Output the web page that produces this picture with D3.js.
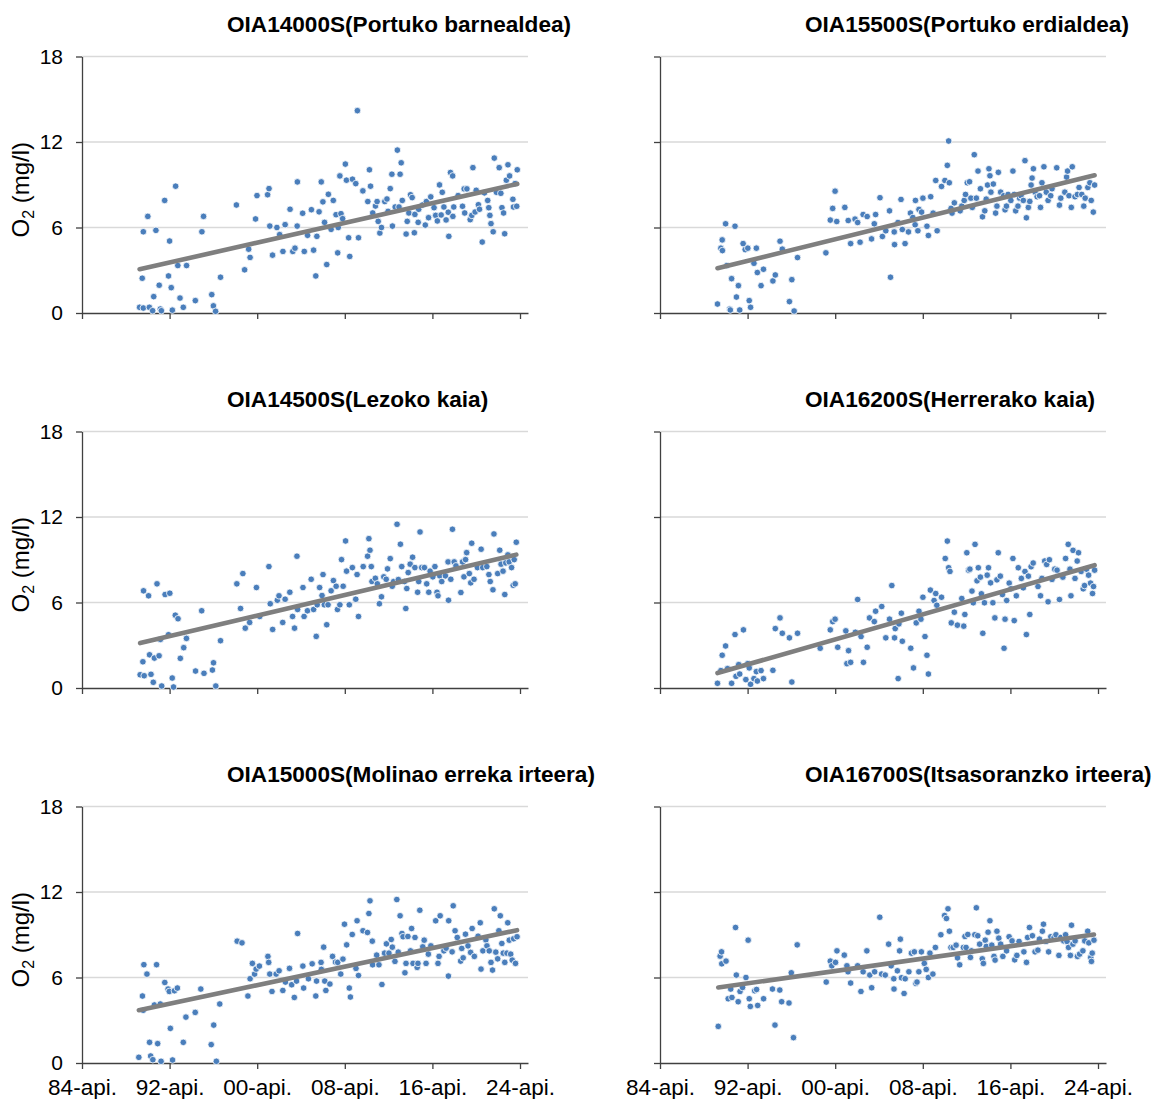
<!DOCTYPE html>
<html><head><meta charset="utf-8">
<script src="https://cdn.jsdelivr.net/npm/d3@7"></script>
<style>
body{margin:0;background:#fff}
svg{display:block;font-family:"Liberation Sans",Arial,sans-serif}
</style>
</head><body>
<svg id="chart" width="1158" height="1099"></svg>
<script>
// ---------- data ----------
const stationTitles = [
  "OIA14000S(Portuko barnealdea)", "OIA15500S(Portuko erdialdea)",
  "OIA14500S(Lezoko kaia)", "OIA16200S(Herrerako kaia)",
  "OIA15000S(Molinao erreka irteera)", "OIA16700S(Itsasoranzko irteera)"
];
const yTicks = [0, 6, 12, 18];
const xTickYears = [1984.25, 1992.25, 2000.25, 2008.25, 2016.25, 2024.25];
const xTickLabels = ["84-api.", "92-api.", "00-api.", "08-api.", "16-api.", "24-api."];
const xDomain = [1984.25, 2024.98];
const yDomain = [0, 18];

// [decimal year, O2 mg/l]
const st14000 = [[1989.51,0.4],[1989.85,0.35],[1989.75,2.44],[1989.85,5.7],[1990.26,6.78],[1990.4,0.4],[1990.7,0.16],[1990.8,1.15],[1991.0,5.8],[1991.3,1.95],[1991.4,0.28],[1991.5,0.16],[1991.8,7.9],[1992.15,2.6],[1992.25,5.05],[1992.4,1.78],[1992.5,0.2],[1992.8,8.9],[1993.0,3.33],[1993.2,1.05],[1993.5,0.4],[1993.8,3.33],[1994.6,0.87],[1995.2,5.7],[1995.35,6.78],[1996.1,1.29],[1996.25,0.5],[1996.45,0.12],[1996.9,2.51],[1998.35,7.58],[1999.1,3.03],[1999.47,4.48],[1999.6,3.9],[2000.1,6.6],[2000.23,8.24],[2001.2,8.3],[2001.33,8.73],[2001.4,6.1],[2001.65,4.06],[2002.05,6.0],[2002.3,5.5],[2002.6,4.32],[2002.8,6.2],[2003.25,7.28],[2003.5,4.32],[2003.7,4.55],[2003.9,6.1],[2003.92,9.2],[2004.4,7.0],[2004.55,4.32],[2004.85,5.45],[2005.2,7.25],[2005.4,4.41],[2005.6,2.6],[2005.7,5.38],[2005.9,7.1],[2006.1,9.2],[2006.25,7.8],[2006.4,6.36],[2006.6,3.4],[2006.75,8.33],[2007.0,5.87],[2007.2,7.9],[2007.45,6.9],[2007.6,4.22],[2007.65,6.0],[2007.8,9.62],[2007.9,6.97],[2008.05,6.62],[2008.3,10.45],[2008.4,9.32],[2008.6,5.28],[2008.7,3.97],[2008.95,9.39],[2009.25,9.08],[2009.4,14.2],[2009.5,5.28],[2009.9,8.57],[2010.35,7.82],[2010.5,10.05],[2010.6,8.9],[2010.8,7.02],[2011.05,7.51],[2011.2,7.82],[2011.3,6.43],[2011.45,5.61],[2011.6,6.0],[2011.9,7.82],[2012.1,8.0],[2012.2,7.13],[2012.4,8.73],[2012.55,9.74],[2012.6,6.1],[2012.85,7.44],[2013.05,11.43],[2013.2,7.44],[2013.3,9.74],[2013.4,10.54],[2013.5,7.9],[2013.85,5.54],[2013.95,6.43],[2014.1,7.02],[2014.25,8.3],[2014.4,8.1],[2014.6,5.63],[2014.65,6.92],[2014.95,6.36],[2015.0,7.28],[2015.35,7.58],[2015.6,6.17],[2015.7,7.82],[2015.9,6.69],[2016.1,8.15],[2016.4,7.39],[2016.55,6.85],[2016.7,6.46],[2016.9,8.99],[2017.05,6.88],[2017.15,8.47],[2017.3,7.44],[2017.5,6.53],[2017.7,7.07],[2017.75,5.38],[2017.9,9.86],[2018.1,9.62],[2018.2,7.44],[2018.12,6.78],[2018.6,8.24],[2019.0,7.49],[2019.15,8.71],[2019.2,7.02],[2019.4,8.71],[2019.7,6.55],[2019.85,6.85],[2019.95,10.2],[2020.15,7.09],[2020.25,8.61],[2020.45,7.6],[2020.55,7.28],[2020.8,4.98],[2021.0,8.43],[2021.3,7.9],[2021.4,7.39],[2021.5,6.85],[2021.6,6.27],[2021.8,5.7],[2021.9,10.87],[2022.1,8.47],[2022.35,10.2],[2022.5,8.4],[2022.6,7.39],[2022.75,7.02],[2022.85,5.56],[2023.0,9.32],[2023.15,10.4],[2023.3,9.62],[2023.6,7.98],[2023.65,7.44],[2023.8,9.08],[2023.95,7.49],[2024.0,10.05]];

const st15500 = [[1989.5,0.63],[1989.81,4.55],[1989.93,5.13],[1989.95,4.38],[1990.24,6.26],[1990.36,3.33],[1990.61,0.28],[1990.67,0.21],[1990.79,2.41],[1991.1,6.09],[1991.23,1.12],[1991.41,1.92],[1991.53,0.21],[1991.84,4.87],[1992.03,4.45],[1992.27,4.55],[1992.4,0.87],[1992.52,0.4],[1992.83,3.49],[1993.05,4.55],[1993.14,2.84],[1993.48,1.92],[1993.7,3.07],[1994.56,2.25],[1994.78,2.67],[1995.21,5.04],[1995.42,4.48],[1996.07,0.8],[1996.29,2.34],[1996.5,0.14],[1996.81,3.89],[1999.4,4.22],[1999.8,6.52],[2000.02,7.34],[2000.24,8.55],[2000.39,6.42],[2001.13,7.41],[2001.44,6.49],[2001.66,4.87],[2002.06,6.59],[2002.3,6.35],[2002.52,4.97],[2002.8,6.91],[2003.17,6.77],[2003.57,5.2],[2003.82,6.26],[2003.94,6.91],[2004.34,8.09],[2004.56,5.37],[2004.87,5.77],[2005.21,7.17],[2005.3,2.51],[2005.64,5.69],[2005.67,4.8],[2005.98,6.35],[2006.26,7.97],[2006.38,5.86],[2006.63,4.87],[2006.94,5.69],[2007.12,7.01],[2007.34,6.7],[2007.55,6.19],[2007.58,7.9],[2007.8,5.77],[2007.9,7.27],[2008.14,7.08],[2008.26,8.06],[2008.63,6.09],[2008.76,5.44],[2008.97,8.16],[2009.19,7.01],[2009.43,9.3],[2009.56,5.77],[2009.96,8.88],[2010.27,9.3],[2010.49,10.36],[2010.61,12.07],[2010.67,9.14],[2010.83,7.34],[2010.92,7.01],[2011.13,7.73],[2011.66,7.17],[2011.81,7.5],[2012.03,7.9],[2012.15,8.32],[2012.31,9.14],[2012.52,9.21],[2012.64,8.06],[2012.77,7.41],[2012.95,11.11],[2013.14,8.06],[2013.29,9.96],[2013.51,8.72],[2013.7,6.75],[2013.91,7.17],[2014.04,7.99],[2014.16,8.98],[2014.29,10.12],[2014.38,9.63],[2014.47,8.48],[2014.69,9.05],[2014.9,7.01],[2015.02,7.5],[2015.15,9.87],[2015.36,8.48],[2015.64,8.23],[2015.76,7.24],[2015.89,7.5],[2016.04,8.32],[2016.29,7.9],[2016.48,9.96],[2016.6,8.32],[2016.73,7.17],[2016.94,7.5],[2017.09,8.06],[2017.22,8.23],[2017.43,7.9],[2017.58,10.69],[2017.71,6.68],[2017.89,7.41],[2018.02,7.83],[2018.14,8.98],[2018.23,9.47],[2018.35,10.12],[2018.51,8.48],[2018.69,8.16],[2018.91,8.23],[2019.0,7.41],[2019.13,9.14],[2019.31,10.26],[2019.53,8.48],[2019.69,7.9],[2019.93,8.23],[2020.05,8.72],[2020.48,10.19],[2020.73,7.57],[2020.85,8.06],[2021.22,8.48],[2021.38,9.54],[2021.47,9.96],[2021.6,8.23],[2021.81,7.41],[2021.9,10.26],[2022.15,8.16],[2022.37,8.32],[2022.52,8.81],[2022.77,8.32],[2022.95,7.5],[2023.08,8.06],[2023.32,8.81],[2023.51,9.14],[2023.63,7.9],[2023.82,7.08],[2023.94,8.98]];

const st14500 = [[1989.56,0.93],[1989.81,1.84],[1989.87,6.82],[1989.93,0.86],[1990.33,6.47],[1990.42,2.33],[1990.55,0.96],[1990.76,0.4],[1990.86,2.1],[1991.1,7.31],[1991.29,2.26],[1991.41,3.41],[1991.53,0.14],[1991.84,6.56],[1992.15,3.74],[1992.27,6.65],[1992.49,0.7],[1992.61,0.07],[1992.77,5.11],[1993.02,4.86],[1993.23,2.08],[1993.54,2.83],[1993.79,3.48],[1994.62,1.19],[1995.18,5.42],[1995.39,1.03],[1996.16,1.26],[1996.26,1.77],[1996.47,0.14],[1996.9,3.32],[1998.39,7.31],[1998.73,5.58],[1998.94,8.03],[1999.16,4.2],[1999.56,4.6],[2000.18,7.05],[2000.48,5.02],[2001.32,8.52],[2001.44,5.91],[2001.66,4.11],[2002.09,6.16],[2002.24,6.47],[2002.58,4.6],[2002.8,6.23],[2003.23,6.72],[2003.48,5.02],[2003.66,4.2],[2003.88,9.25],[2003.94,5.51],[2004.43,7.05],[2004.53,5.02],[2004.84,5.42],[2005.18,7.63],[2005.4,5.51],[2005.64,3.62],[2005.73,5.84],[2005.95,7.05],[2006.17,6.49],[2006.26,7.96],[2006.38,5.84],[2006.6,4.44],[2006.72,5.84],[2007.0,6.82],[2007.21,7.54],[2007.46,7.14],[2007.58,5.51],[2007.8,5.84],[2007.95,9.01],[2008.1,7.14],[2008.32,10.32],[2008.41,8.2],[2008.66,5.84],[2008.94,8.45],[2009.25,6.23],[2009.37,7.96],[2009.5,5.02],[2009.93,8.52],[2010.33,9.25],[2010.45,10.48],[2010.55,9.67],[2010.67,8.52],[2010.73,7.47],[2011.04,7.7],[2011.22,7.31],[2011.41,5.91],[2011.6,6.4],[2011.81,7.8],[2012.03,7.63],[2012.15,8.36],[2012.4,9.08],[2012.58,7.14],[2012.71,7.47],[2013.02,11.49],[2013.14,7.61],[2013.33,10.09],[2013.45,8.52],[2013.7,7.47],[2013.82,5.58],[2013.91,6.98],[2014.04,8.1],[2014.22,8.69],[2014.44,9.18],[2014.65,8.45],[2014.9,6.72],[2015.0,7.47],[2015.12,10.95],[2015.27,8.45],[2015.52,8.45],[2015.73,7.31],[2015.92,6.72],[2016.04,8.2],[2016.29,7.8],[2016.48,8.52],[2016.67,6.72],[2016.76,6.47],[2016.92,7.87],[2017.1,7.47],[2017.44,7.87],[2017.68,8.85],[2017.72,6.16],[2017.93,7.63],[2018.08,11.14],[2018.24,8.85],[2018.4,8.57],[2018.85,6.7],[2019.0,8.85],[2019.13,7.8],[2019.28,9.01],[2019.38,9.5],[2019.62,8.03],[2019.75,7.38],[2019.84,10.16],[2020.05,7.63],[2020.36,8.45],[2020.7,9.74],[2020.85,8.45],[2021.22,8.52],[2021.41,7.96],[2021.53,7.47],[2021.78,6.89],[2021.87,10.81],[2022.21,8.03],[2022.4,9.67],[2022.52,8.69],[2022.7,8.2],[2022.86,6.56],[2022.95,8.78],[2023.14,9.34],[2023.26,8.85],[2023.48,8.45],[2023.63,7.21],[2023.72,9.01],[2023.81,7.31],[2023.91,10.23]];

const st16200 = [[1989.5,0.33],[1989.81,1.22],[1989.93,2.3],[1990.24,2.95],[1990.42,1.36],[1990.79,0.33],[1991.1,3.75],[1991.19,0.82],[1991.44,1.64],[1991.53,0.98],[1991.87,4.08],[1992.09,0.59],[1992.27,1.71],[1992.4,1.41],[1992.52,0.26],[1992.83,0.66],[1993.05,1.15],[1993.14,0.49],[1993.48,1.22],[1993.7,0.66],[1994.56,1.24],[1994.78,4.17],[1995.21,4.92],[1995.42,3.84],[1996.07,3.52],[1996.29,0.42],[1996.81,3.84],[1998.88,2.79],[1999.8,4.08],[2000.02,4.66],[2000.24,4.83],[2000.48,2.86],[2001.22,4.01],[2001.32,1.71],[2001.47,2.62],[2001.66,1.8],[2002.09,3.91],[2002.3,6.21],[2002.61,3.61],[2002.83,1.8],[2003.17,2.86],[2003.38,4.92],[2003.82,4.66],[2003.94,5.39],[2004.5,5.72],[2004.87,3.52],[2005.21,4.83],[2005.42,7.19],[2005.67,3.52],[2005.73,4.17],[2006.0,0.66],[2006.07,4.5],[2006.29,5.25],[2006.38,3.28],[2007.15,2.79],[2007.4,1.41],[2007.65,4.57],[2007.9,5.39],[2008.08,4.83],[2008.26,6.37],[2008.45,3.61],[2008.63,2.3],[2008.76,0.98],[2008.94,6.87],[2009.28,6.14],[2009.43,6.63],[2009.53,5.81],[2009.96,6.37],[2010.3,9.09],[2010.49,10.31],[2010.61,8.44],[2010.73,8.18],[2010.85,4.57],[2011.13,5.32],[2011.41,4.41],[2011.81,6.28],[2011.99,4.34],[2012.09,5.16],[2012.27,9.49],[2012.43,8.27],[2012.55,8.34],[2012.74,6.8],[2012.86,5.98],[2013.02,10.08],[2013.2,7.52],[2013.32,8.44],[2013.51,7.78],[2013.6,6.61],[2013.73,3.84],[2013.88,5.98],[2014.13,7.92],[2014.25,8.44],[2014.44,7.38],[2014.65,5.98],[2014.83,4.92],[2015.02,7.59],[2015.14,9.49],[2015.33,7.85],[2015.52,6.56],[2015.67,2.79],[2015.76,4.83],[2015.91,6.14],[2016.14,7.36],[2016.3,6.96],[2016.48,9.09],[2016.6,4.73],[2016.79,6.47],[2016.97,8.44],[2017.25,7.69],[2017.43,7.03],[2017.58,8.18],[2017.71,3.75],[2017.89,7.85],[2018.02,5.16],[2018.14,8.51],[2018.33,8.77],[2018.77,7.12],[2019.0,6.47],[2019.13,7.69],[2019.38,8.91],[2019.56,8.67],[2019.69,6.05],[2019.81,9.0],[2020.05,7.62],[2020.3,8.34],[2020.51,8.27],[2020.73,6.21],[2021.04,7.78],[2021.29,9.09],[2021.53,10.08],[2021.69,8.34],[2021.78,6.47],[2021.97,9.66],[2022.15,7.69],[2022.35,8.91],[2022.47,9.49],[2022.71,8.18],[2022.9,6.96],[2023.02,7.19],[2023.2,8.34],[2023.39,7.92],[2023.57,7.36],[2023.75,6.63],[2023.84,7.12],[2023.94,8.27]];

const st15000 = [[1989.44,0.4],[1989.77,4.7],[1989.84,3.7],[1989.9,6.9],[1990.18,6.24],[1990.42,1.45],[1990.52,0.49],[1990.72,0.23],[1990.86,4.07],[1991.06,6.9],[1991.16,1.36],[1991.4,4.14],[1991.47,0.12],[1991.81,5.65],[1992.11,5.19],[1992.22,5.02],[1992.32,2.43],[1992.52,0.21],[1992.69,5.07],[1992.96,5.26],[1993.5,1.45],[1993.74,3.22],[1994.59,3.55],[1995.1,5.19],[1996.05,1.29],[1996.28,2.66],[1996.52,0.12],[1996.83,4.14],[1998.42,8.55],[1998.86,8.43],[1999.4,4.7],[1999.6,5.91],[1999.81,6.99],[2000.01,6.24],[2000.15,6.59],[2000.45,6.8],[2001.23,7.48],[2001.3,7.06],[2001.4,6.24],[2001.6,5.02],[2001.98,6.24],[2002.25,6.47],[2002.59,5.09],[2002.83,5.68],[2003.2,6.64],[2003.4,5.49],[2003.64,4.6],[2003.84,5.75],[2003.94,9.09],[2004.42,6.8],[2004.49,5.26],[2004.93,5.91],[2005.27,6.96],[2005.6,4.7],[2005.67,5.75],[2006.08,7.06],[2006.11,6.57],[2006.32,8.13],[2006.42,5.75],[2006.52,5.09],[2006.89,5.54],[2007.13,7.48],[2007.4,7.08],[2007.6,7.06],[2007.88,6.24],[2008.08,7.29],[2008.22,9.74],[2008.42,8.29],[2008.66,5.26],[2008.76,4.63],[2008.93,9.02],[2009.27,6.64],[2009.37,9.98],[2009.5,6.14],[2009.91,9.28],[2010.32,9.16],[2010.45,10.49],[2010.55,11.38],[2010.76,8.55],[2010.79,6.89],[2011.16,7.57],[2011.37,6.89],[2011.64,5.51],[2011.88,7.71],[2012.05,8.36],[2012.28,7.71],[2012.49,8.67],[2012.59,8.13],[2012.83,7.13],[2013.0,11.47],[2013.13,7.78],[2013.3,10.33],[2013.47,9.09],[2013.57,8.86],[2013.74,6.33],[2013.84,6.99],[2014.01,8.88],[2014.25,7.87],[2014.35,9.44],[2014.48,6.99],[2014.66,8.81],[2014.86,6.71],[2014.93,6.99],[2015.1,10.72],[2015.37,8.15],[2015.5,8.62],[2015.67,6.99],[2015.88,7.64],[2016.11,8.22],[2016.55,9.98],[2016.76,6.99],[2016.86,7.48],[2016.96,10.33],[2017.3,7.87],[2017.5,8.06],[2017.71,6.1],[2017.74,9.98],[2018.05,7.8],[2018.15,11.03],[2018.32,9.28],[2018.52,8.81],[2018.83,7.15],[2018.93,8.04],[2019.06,7.38],[2019.27,9.04],[2019.5,8.22],[2019.74,7.76],[2019.88,9.44],[2020.08,7.48],[2020.42,8.9],[2020.62,9.84],[2020.69,6.59],[2020.86,7.87],[2021.13,8.64],[2021.23,8.22],[2021.44,7.87],[2021.6,7.06],[2021.74,6.52],[2021.9,10.82],[2022.04,7.78],[2022.21,7.31],[2022.32,9.28],[2022.45,10.33],[2022.59,8.39],[2022.72,7.71],[2022.86,7.06],[2023.06,7.71],[2023.13,9.84],[2023.27,8.62],[2023.4,7.64],[2023.54,7.22],[2023.67,8.72],[2023.84,6.99],[2023.98,8.86]];

const st16700 = [[1989.57,2.57],[1989.74,7.5],[1989.87,7.8],[1989.89,6.96],[1990.28,7.15],[1990.48,4.51],[1990.71,5.19],[1990.82,4.6],[1991.15,9.51],[1991.22,6.17],[1991.39,4.3],[1991.56,5.02],[1991.79,5.3],[1992.1,6.0],[1992.3,8.62],[1992.4,4.51],[1992.5,3.97],[1992.9,5.07],[1993.07,5.16],[1993.17,4.04],[1993.71,4.51],[1994.52,5.19],[1994.75,2.66],[1995.19,5.12],[1995.36,4.3],[1996.03,4.21],[1996.24,6.33],[1996.44,1.78],[1996.78,8.29],[1999.43,5.68],[1999.8,7.15],[1999.94,6.82],[2000.28,7.06],[2000.41,7.87],[2001.08,7.57],[2001.32,6.82],[2001.42,6.4],[2001.66,5.61],[2002.3,6.82],[2002.6,5.02],[2002.8,6.4],[2003.14,7.87],[2003.41,6.17],[2003.58,5.28],[2003.85,6.4],[2004.32,10.23],[2004.49,6.24],[2004.82,6.17],[2005.13,8.34],[2005.36,6.82],[2005.6,5.91],[2005.62,5.19],[2005.93,6.47],[2006.13,7.87],[2006.2,8.69],[2006.3,5.98],[2006.54,4.88],[2006.64,5.91],[2006.98,6.4],[2007.21,7.71],[2007.48,7.8],[2007.62,5.58],[2007.72,5.68],[2007.89,6.4],[2008.12,7.8],[2008.39,6.99],[2008.56,6.57],[2008.76,6.0],[2008.9,7.71],[2009.17,6.24],[2009.4,8.11],[2009.9,9.0],[2010.24,10.35],[2010.41,10.14],[2010.55,10.82],[2010.68,9.25],[2010.82,8.11],[2011.02,8.11],[2011.29,8.27],[2011.42,7.38],[2011.62,6.89],[2011.96,8.11],[2012.1,8.88],[2012.2,8.11],[2012.36,9.02],[2012.6,7.41],[2012.7,7.87],[2013.0,9.0],[2013.14,10.89],[2013.27,8.93],[2013.44,8.34],[2013.68,7.31],[2013.78,6.99],[2013.95,8.62],[2014.05,8.18],[2014.21,9.18],[2014.38,9.98],[2014.55,8.27],[2014.75,7.48],[2014.85,7.22],[2015.02,9.25],[2015.19,8.76],[2015.36,8.34],[2015.56,7.48],[2015.9,7.87],[2016.13,8.86],[2016.4,8.57],[2016.64,7.24],[2016.84,7.55],[2017.04,8.53],[2017.48,7.8],[2017.72,7.06],[2017.82,8.81],[2017.99,9.51],[2018.26,8.93],[2018.5,7.8],[2018.76,7.92],[2018.9,8.69],[2019.17,9.25],[2019.27,9.74],[2019.5,8.53],[2019.74,7.8],[2019.94,8.86],[2020.24,8.81],[2020.41,9.0],[2020.68,7.55],[2020.85,8.81],[2021.12,8.57],[2021.29,9.0],[2021.42,8.53],[2021.56,8.11],[2021.73,7.55],[2021.83,9.67],[2021.96,8.34],[2022.16,8.57],[2022.37,7.48],[2022.57,7.64],[2022.87,7.87],[2023.04,8.57],[2023.31,9.25],[2023.41,8.43],[2023.58,7.41],[2023.65,7.13],[2023.72,7.71],[2023.88,8.62]];

const stationData = [st14000, st15500, st14500, st16200, st15000, st16700];
// linear trend line end values (mg/l) at first and last sample date
const trendStart = [3.07, 3.14, 3.15, 1.05, 3.71, 5.30];
const trendEnd   = [9.06, 9.66, 9.36, 8.62, 9.32, 9.02];

// ---------- layout ----------
const svg = d3.select("#chart");
svg.append("rect").attr("width", 1158).attr("height", 1099).attr("fill", "#fff");
const W = 446, H = 256.5;
const colX = [82, 660];
const rowY = [56.5, 431.5, 806.5];
const titleX = [227, 805];
const x = d3.scaleLinear().domain(xDomain).range([0, W]);
const y = d3.scaleLinear().domain(yDomain).range([H, 0]);
const axisColor = "#404040";

stationData.forEach((data, i) => {
  const col = i % 2, row = Math.floor(i / 2);
  const g = svg.append("g").attr("transform", `translate(${colX[col]},${rowY[row]})`);

  // title
  svg.append("text")
    .attr("x", titleX[col]).attr("y", 32 + row * 375)
    .attr("font-size", 22.6).attr("font-weight", "bold").attr("fill", "#000")
    .text(stationTitles[i]);

  // gridlines
  g.append("g").selectAll("line").data(yTicks.filter(d => d > 0)).join("line")
    .attr("x1", 0).attr("x2", W)
    .attr("y1", d => y(d)).attr("y2", d => y(d))
    .attr("stroke", "#d9d9d9").attr("stroke-width", 1.3);

  // y axis
  const ya = g.append("g").call(
    d3.axisLeft(y).tickValues(yTicks).tickSize(6).tickSizeOuter(0).tickPadding(13)
      .tickFormat(col === 0 ? d3.format("d") : () => ""));
  // x axis
  const xa = g.append("g").attr("transform", `translate(0,${H})`).call(
    d3.axisBottom(x).tickValues(xTickYears).tickSize(6).tickSizeOuter(0).tickPadding(10)
      .tickFormat((d, k) => row === 2 ? xTickLabels[k] : ""));
  [ya, xa].forEach(a => {
    a.select(".domain").attr("stroke", axisColor).attr("stroke-width", 1.3);
    a.selectAll(".tick line").attr("stroke", axisColor).attr("stroke-width", 1.3);
    a.selectAll("text").attr("fill", "#000")
      .attr("font-family", '"Liberation Sans",Arial,sans-serif');
  });
  ya.selectAll("text").attr("font-size", 21);
  xa.selectAll("text").attr("font-size", 22.5);

  // y axis title
  if (col === 0) {
    const t = svg.append("text")
      .attr("transform", `translate(29,${rowY[row] + H / 2 + 5}) rotate(-90)`)
      .attr("text-anchor", "middle").attr("font-size", 24).attr("fill", "#000");
    t.append("tspan").text("O");
    t.append("tspan").attr("font-size", 16).attr("dy", 5).text("2");
    t.append("tspan").attr("dy", -5).text(" (mg/l)");
  }

  // points
  g.append("g").selectAll("circle").data(data).join("circle")
    .attr("cx", d => x(d[0])).attr("cy", d => y(d[1])).attr("r", 3.3)
    .attr("fill", "#4a7ebb").attr("stroke", "#fff").attr("stroke-width", 0.8);

  // trend line
  const ext = d3.extent(data, d => d[0]);
  g.append("line")
    .attr("x1", x(ext[0])).attr("y1", y(trendStart[i]))
    .attr("x2", x(ext[1])).attr("y2", y(trendEnd[i]))
    .attr("stroke", "#7f7f7f").attr("stroke-width", 4.6).attr("stroke-linecap", "round");
});
</script>
</body></html>
